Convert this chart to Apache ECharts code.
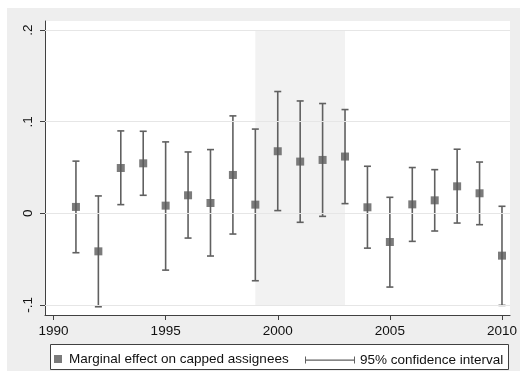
<!DOCTYPE html>
<html><head><meta charset="utf-8">
<script src="https://cdn.jsdelivr.net/npm/echarts@6/dist/echarts.min.js"></script>
<style>
html,body{margin:0;padding:0;background:#fff}
#wrap{position:relative;width:520px;height:380px;background:#fff}
#bg{position:absolute;left:7px;top:8px;width:513px;height:363px;background:#eeeeee}
#c{position:absolute;left:0;top:0;width:520px;height:380px}
</style>
</head><body>
<div id="wrap"><div id="bg"></div><div id="c"></div></div>
<script>
// ---- data ----
const years   = [1991,1992,1993,1994,1995,1996,1997,1998,1999,2000,2001,2002,2003,2004,2005,2006,2007,2008,2009,2010];
const effect  = [0.007,-0.0415,0.0495,0.0546,0.0084,0.0197,0.0113,0.0419,0.0095,0.0678,0.0565,0.0583,0.062,0.0066,-0.0313,0.0098,0.0142,0.0295,0.0219,-0.0462];
const ciLow   = [-0.043,-0.102,0.0095,0.0197,-0.062,-0.027,-0.0466,-0.0226,-0.0736,0.003,-0.0098,-0.0033,0.0106,-0.038,-0.0805,-0.0306,-0.0193,-0.0106,-0.0124,-0.1005];
const ciHigh  = [0.057,0.019,0.090,0.0896,0.078,0.067,0.0696,0.1064,0.092,0.133,0.1227,0.1199,0.1133,0.0514,0.0175,0.050,0.0477,0.070,0.056,0.0077];
const xTicks  = [1990,1995,2000,2005,2010];
const yTicks  = [-0.1,0,0.1,0.2];
const yTickLabels = ['-.1','0','.1','.2'];
const shadeYears = [1999,2003];
const seriesNames = ['Marginal effect on capped assignees','95% confidence interval'];

const fnt = '"Liberation Sans", Arial, sans-serif';
const axisColor = '#404040';
const barColor = '#606060';

const chart = echarts.init(document.getElementById('c'), null, {renderer:'canvas'});

const option = {
  backgroundColor: 'transparent',
  animation: false,
  grid: {left:45, right:7, top:21, bottom:65, show:true, backgroundColor:'#ffffff', borderWidth:0},
  xAxis: {
    type:'value', min:1989.62, max:2010.36,
    axisLine:{show:true, onZero:false, lineStyle:{color:axisColor, width:1}},
    axisTick:{show:true, length:5, customValues:xTicks, lineStyle:{color:axisColor}},
    axisLabel:{customValues:xTicks, margin:9, fontSize:13.5, color:'#111', fontFamily:fnt,
      formatter: v => String(Math.round(v))},
    splitLine:{show:false}
  },
  yAxis: {
    type:'value', min:-0.111, max:0.21,
    axisLine:{show:true, onZero:false, lineStyle:{color:axisColor, width:1}},
    axisTick:{show:true, length:5, customValues:yTicks, lineStyle:{color:axisColor}},
    axisLabel:{customValues:yTicks, rotate:90, margin:10, fontSize:13.5, color:'#111', fontFamily:fnt,
      formatter: v => { const i = yTicks.findIndex(t => Math.abs(t - v) < 1e-9); return i >= 0 ? yTickLabels[i] : ''; }},
    splitLine:{show:false}
  },
  legend: [
    {
      data:[{name:seriesNames[0], icon:'rect'}],
      left:54, top:352, itemWidth:8, itemHeight:8, padding:0, selectedMode:false,
      textStyle:{fontSize:13.5, color:'#111', fontFamily:fnt, padding:[0,0,0,2]}
    },
    {
      data:[{name:seriesNames[1], icon:'path://M0,0h1v7h-1z M1,3h48v1.2h-48z M49,0h1v7h-1z'}],
      left:305, top:353, itemWidth:50, itemHeight:7, padding:0, selectedMode:false,
      textStyle:{fontSize:13.5, color:'#111', fontFamily:fnt}
    }
  ],
  graphic: [
    {type:'rect', z:1, silent:true, shape:{x:50.5, y:344.5, width:458, height:25},
     style:{fill:'#ffffff', stroke:axisColor, lineWidth:1}}
  ],
  series: [
    {
      type:'line', name:'_grid', data:[], z:1, silent:true,
      markLine:{silent:true, symbol:['none','none'], label:{show:false},
        lineStyle:{color:'#e6e6e6', width:1, type:'solid'},
        data: yTicks.map(v => ({yAxis:v}))}
    },
    {
      type:'line', name:'_shade', data:[], z:2, silent:true,
      markArea:{silent:true, itemStyle:{color:'#f2f2f2'},
        data:[[{xAxis:shadeYears[0], yAxis:yTicks[0]}, {xAxis:shadeYears[1], yAxis:yTicks[yTicks.length-1]}]]}
    },
    {
      type:'custom', name:seriesNames[1], z:3,
      itemStyle:{color:barColor},
      encode:{x:0, y:[1,2]},
      data: years.map((y,i) => [y, ciLow[i], ciHigh[i]]),
      renderItem: function(params, api){
        const x = api.value(0), lo = api.value(1), hi = api.value(2);
        const pLo = api.coord([x, lo]), pHi = api.coord([x, hi]);
        const hw = 3.5;
        const st = {stroke:barColor, lineWidth:1.6, fill:null};
        return {type:'group', children:[
          {type:'line', shape:{x1:pLo[0], y1:pLo[1], x2:pHi[0], y2:pHi[1]}, style:st},
          {type:'line', shape:{x1:pLo[0]-hw, y1:pLo[1], x2:pLo[0]+hw, y2:pLo[1]}, style:st},
          {type:'line', shape:{x1:pHi[0]-hw, y1:pHi[1], x2:pHi[0]+hw, y2:pHi[1]}, style:st}
        ]};
      }
    },
    {
      type:'scatter', name:seriesNames[0], z:4,
      symbol:'rect', symbolSize:8,
      itemStyle:{color:'#5a5a5a'},
      data: years.map((y,i) => [y, effect[i]])
    }
  ]
};
chart.setOption(option);
</script>
</body></html>
